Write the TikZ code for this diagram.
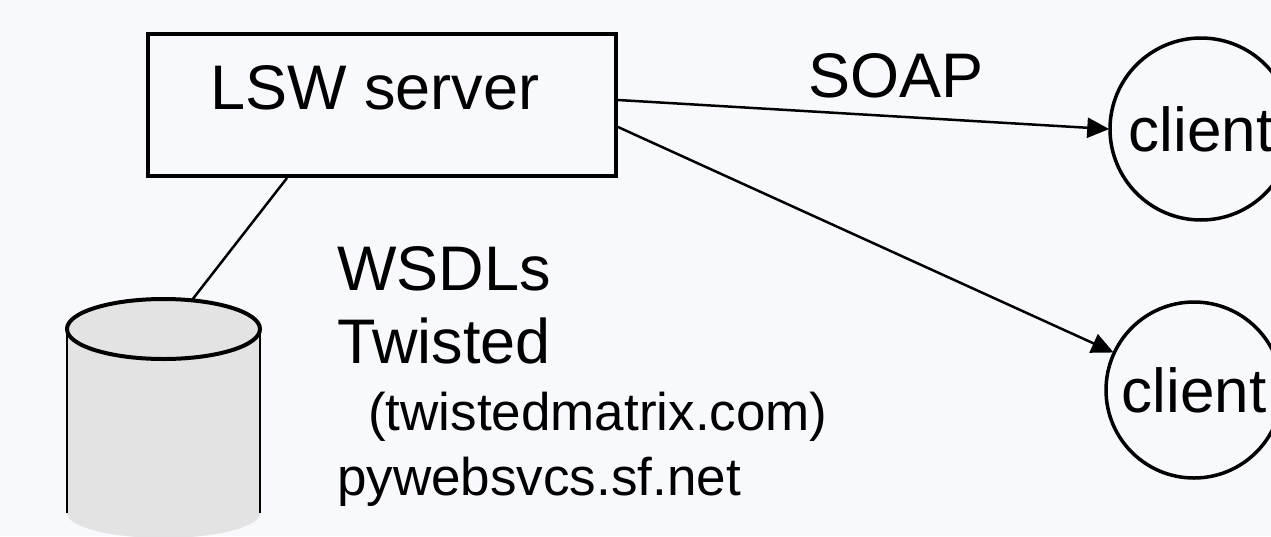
\documentclass[tikz,border=0pt]{standalone}
\usepackage{fontspec}
\setmainfont{Liberation Sans}
\usetikzlibrary{arrows.meta}
\definecolor{bg}{RGB}{248,249,253}
\definecolor{dbfill}{RGB}{227,227,227}
\tikzset{
  boxstyle/.style={draw=black, line width=4pt, fill=bg, minimum width=468pt, minimum height=142pt, inner sep=0pt},
  clientstyle/.style={draw=black, line width=3.5pt, circle, inner sep=0pt, font=\fontsize{62}{70}\selectfont},
  conn/.style={draw=black, line width=2.5pt},
  arr/.style={conn, -{Triangle[length=22pt,width=20pt]}, shorten >=-1pt},
  bigtxt/.style={anchor=base west, inner sep=0pt, font=\fontsize{63}{70}\selectfont},
  smalltxt/.style={anchor=base west, inner sep=0pt, font=\fontsize{53}{60}\selectfont}
}
\begin{document}
\begin{tikzpicture}[x=1pt,y=-1pt]
\path[fill=bg] (0,0) rectangle (1271,536);
\useasboundingbox (0,0) rectangle (1271,536);
% database cylinder
\fill[dbfill] (67,329) rectangle (260,513);
\fill[dbfill] (163.5,513) ellipse [x radius=96.5, y radius=25];
\draw[line width=1.6pt] (67,329) -- (67,513);
\draw[line width=1.6pt] (260,329) -- (260,513);
\draw[line width=4pt, fill=dbfill] (163.5,329) ellipse [x radius=96.5, y radius=30];
\coordinate (dbtop) at (192,300);
% server
\node[boxstyle] (server) at (382,105) {};
\node[bigtxt] (servertxt) at (210,109) {LSW server};
% clients
\node[clientstyle, minimum size=182pt] (client1) at (1201,129) {client};
\node[clientstyle, minimum size=176pt] (client2) at (1194,390) {client};
% connectors
\draw[conn] ([xshift=-95pt]server.south) -- (dbtop);
\draw[arr] ([yshift=5pt]server.east) -- (client1.west);
\draw[arr] ([yshift=-22pt]server.east) -- (client2.155);
% labels
\node[bigtxt] (soap) at (808,97) {SOAP};
\node[bigtxt] (wsdl) at (337,290) {WSDLs};
\node[bigtxt] (twisted) at (337,363) {Twisted};
\node[smalltxt] (tmx) at (368,430) {(twistedmatrix.com)};
\node[smalltxt] (pyws) at (337,495) {pywebsvcs.sf.net};
\end{tikzpicture}
\end{document}
